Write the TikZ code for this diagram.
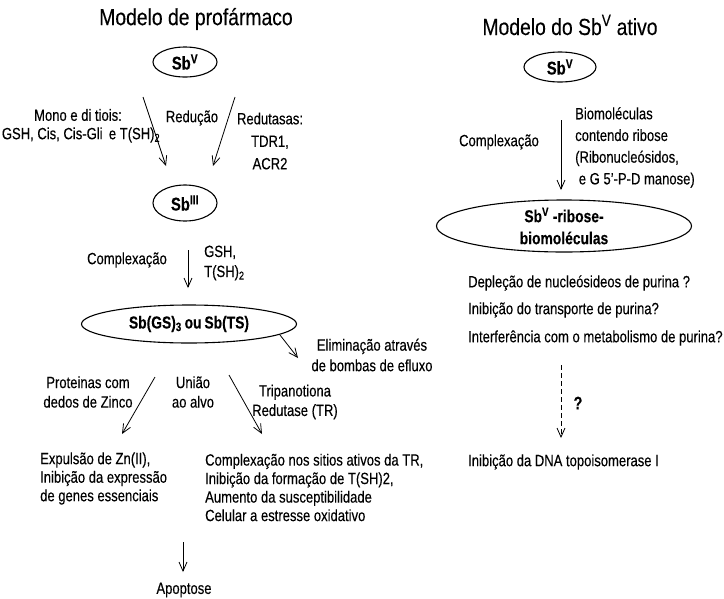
\documentclass[tikz,border=0pt]{standalone}
\usepackage{fontspec}
\setmainfont{Liberation Sans}[FakeStretch=0.8, FakeBold=0.25]
\newfontfamily\titlefont{Liberation Sans}[FakeStretch=0.83, FakeBold=0.25]
\usetikzlibrary{shapes.geometric,arrows.meta}
\tikzset{
  txt/.style={inner sep=0pt, font=\fontsize{16.3}{18.5}\selectfont},
  ctxt/.style={txt, align=center},
  ltxt/.style={txt, align=left},
  ttl/.style={inner sep=0pt, font=\titlefont\fontsize{23.3}{26}\selectfont},
  oval/.style={ellipse, draw, line width=1.1pt, inner sep=0pt, align=center,
    font=\bfseries\fontsize{18.5}{22}\selectfont},
  arr/.style={-{Straight Barb[length=9pt,width=8pt]}, line width=0.8pt},
}
\begin{document}
\begin{tikzpicture}[x=1pt,y=-1pt]
\useasboundingbox (0,0) rectangle (724,598);
% ---------- left: prodrug model ----------
\node[ttl] (t1) at (196,19) {Modelo de profármaco};
\node[oval, minimum width=64pt, minimum height=30pt] (sbv1) at (185,62) {Sb\textsuperscript{V}};
\coordinate (a1s) at (143,97); \coordinate (a1e) at (166,166);
\coordinate (a2s) at (235,97); \coordinate (a2e) at (213,166);
\draw[arr] (a1s) -- (a1e);
\draw[arr] (a2s) -- (a2e);
\node[ctxt] (mono) at (78,115) {Mono e di tiois:};
\node[ctxt] (gsh) at (81,135) {GSH, Cis, Cis-Gli\, e T(SH)\textsubscript{2}};
\node[ctxt] (red) at (192,118) {Redução};
\node[ctxt, font=\fontsize{16.3}{22.5}\selectfont] (redut) at (270,141) {Redutasas:\\TDR1,\\ACR2};
\node[oval, minimum width=64pt, minimum height=36pt] (sbiii) at (185,203) {Sb\textsuperscript{III}};
\node[ctxt] (comp1) at (127,260) {Complexação};
\coordinate (a3s) at (188,250); \coordinate (a3e) at (188,288);
\draw[arr] (a3s) -- (a3e);
\node[ltxt, font=\fontsize{16.3}{20}\selectfont, anchor=west] (gsh2) at (204,263) {GSH,\\T(SH)\textsubscript{2}};
\node[oval, minimum width=215pt, minimum height=38pt, font=\bfseries\fontsize{17.3}{22}\selectfont] (sbgs) at (189,324) {Sb(GS)\textsubscript{3}\,ou\,Sb(TS)};
\coordinate (a4s) at (280,335); \coordinate (a4e) at (298,358);
\draw[arr] (a4s) -- (a4e);
\node[ctxt, font=\fontsize{16.3}{20.5}\selectfont] (elim) at (372,355) {Eliminação através\\de bombas de efluxo};
\node[ctxt, font=\fontsize{16.3}{19.5}\selectfont] (prot) at (88,392) {Proteinas com\\dedos de Zinco};
\node[ctxt, font=\fontsize{16.3}{19.5}\selectfont] (uniao) at (193,392) {União\\ao alvo};
\node[ctxt, font=\fontsize{16.3}{19.5}\selectfont] (trip) at (295,402) {Tripanotiona\\Redutase (TR)};
\coordinate (a5s) at (155,377); \coordinate (a5e) at (122,434);
\coordinate (a6s) at (229,375); \coordinate (a6e) at (262,434);
\draw[arr] (a5s) -- (a5e);
\draw[arr] (a6s) -- (a6e);
\node[ltxt, anchor=west] (expul) at (40,478.5) {Expulsão de Zn(II),\\Inibição da expressão\\de genes essenciais};
\node[ltxt, anchor=west] (compl) at (205,487.5) {Complexação nos sitios ativos da TR,\\Inibição da formação de T(SH)2,\\Aumento da susceptibilidade\\Celular a estresse oxidativo};
\coordinate (a7s) at (183,542); \coordinate (a7e) at (183,572);
\draw[arr] (a7s) -- (a7e);
\node[ctxt] (apop) at (184,590) {Apoptose};
% ---------- right: active SbV model ----------
\node[ttl] (t2) at (570,25) {Modelo do Sb\textsuperscript{V} ativo};
\node[oval, minimum width=72pt, minimum height=30pt] (sbv2) at (560,67) {Sb\textsuperscript{V}};
\coordinate (b1s) at (561,120); \coordinate (b1e) at (561,190);
\draw[arr] (b1s) -- (b1e);
\node[ctxt] (comp2) at (499,142) {Complexação};
\node[ltxt, font=\fontsize{16.3}{21.7}\selectfont, anchor=west] (biom) at (575,147.5) {Biomoléculas\\contendo ribose\\(Ribonucleósidos,\\\ e G 5’-P-D manose)};
\node[oval, minimum width=255pt, minimum height=46pt, font=\bfseries\fontsize{17.3}{22}\selectfont] (sbrib) at (564,226) {Sb\textsuperscript{V} -ribose-\\biomoléculas};
\node[ltxt, anchor=west] (dep) at (468,283) {Depleção de nucleósideos de purina ?};
\node[ltxt, anchor=west] (inib) at (468,310) {Inibição do transporte de purina?};
\node[ltxt, anchor=west] (interf) at (468,338) {Interferência com o metabolismo de purina?};
\coordinate (b2s) at (561,365); \coordinate (b2e) at (561,438);
\draw[arr, dashed, dash pattern=on 5pt off 3pt] (b2s) -- (b2e);
\node[txt, font=\bfseries\fontsize{18}{20}\selectfont] (q) at (578,403) {?};
\node[ltxt, anchor=west] (topo) at (468,462) {Inibição da DNA topoisomerase I};
\end{tikzpicture}
\end{document}
